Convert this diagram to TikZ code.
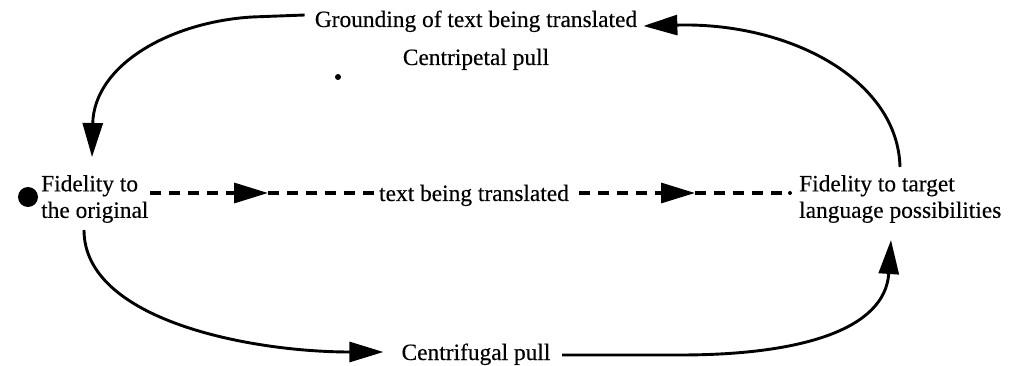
\documentclass[tikz,border=0pt]{standalone}
\usepackage{fontspec}
\setmainfont{Liberation Serif}
\newfontfamily\scanfont[FakeBold=0.35]{Liberation Serif}
\usetikzlibrary{arrows.meta,calc}
\begin{document}
\begin{tikzpicture}[x=1pt,y=-1pt,
  lbl/.style={inner sep=0pt, font=\scanfont\fontsize{23.4}{26.5}\selectfont},
  curve/.style={line width=2.9pt},
  dashline/.style={line width=3.2pt, dash pattern=on 11pt off 8pt},
  bigtip/.style={-{Triangle[length=34pt,width=20pt]}}
]
\useasboundingbox (0,0) rectangle (1013,366);
% nodes
\node[circle, fill, minimum size=20pt, inner sep=0pt] (dot) at (28,197) {};
\node[lbl, anchor=west, align=left] (orig) at (41,199) {Fidelity to\\the original};
\node[lbl, anchor=west, align=left] (target) at (799,199) {Fidelity to target\\language possibilities};
\node[lbl, anchor=base] (mid) at (474,201) {text being translated};
\node[lbl, anchor=base] (ground) at (476,27) {Grounding of text being translated};
\node[lbl, anchor=base] (cpet) at (476,65) {Centripetal pull};
\node[lbl, anchor=base] (cfug) at (476,360) {Centrifugal pull};
\node[circle, fill, minimum size=6pt, inner sep=0pt] (speck) at (338,77) {};
% helper coordinates
\coordinate (dA) at (150,193);
\coordinate (tipA) at (268,193);
\coordinate (dB) at (579,193);
\coordinate (tipB) at (695,193);
\coordinate (dEnd) at (784,193);
\coordinate (tr) at (900,167);
\coordinate (tl) at (252,17);
\coordinate (bl) at (84,230);
\coordinate (br) at (562,355);
% dashed connectors
\draw[dashline, bigtip] (dA) -- (tipA);
\draw[dashline] (tipA) -- ([xshift=-5pt]mid.west |- tipA);
\draw[dashline, bigtip] (dB) -- (tipB);
\draw[dashline] (tipB) -- (dEnd);
\fill (790,193) circle (2pt);
% curved connectors
\draw[curve, bigtip] (tr) .. controls (898,80) and (790,22) .. ([xshift=6pt]ground.east |- 0,26);
\draw[curve] ([xshift=-10pt]ground.west |- 0,15) -- (tl);
\draw[curve, bigtip] (tl) .. controls (170,22) and (94,65) .. (92,157);
\draw[curve, bigtip] (bl) .. controls (84,320) and (250,352) .. ([xshift=-18pt]cfug.west |- 0,352);
\draw[curve, bigtip] (br) -- (680,355) .. controls (800,355) and (885,330) .. (891,240);
\end{tikzpicture}
\end{document}
